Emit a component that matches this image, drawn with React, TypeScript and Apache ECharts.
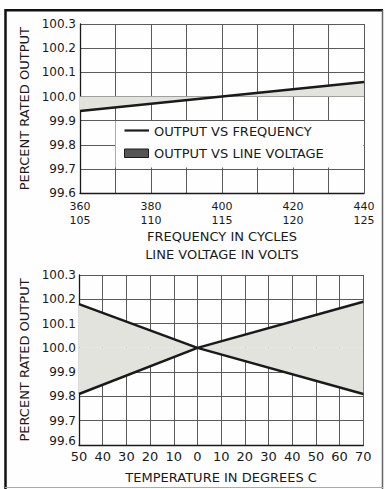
import React, { useEffect, useRef } from "react";
import * as echarts from "echarts";

// ---- data ----
const freqTicks = [360, 380, 400, 420, 440];
const voltTicks = [105, 110, 115, 120, 125];
const freqX = [360, 440];
const freqOutput = [99.94, 100.06];
const lineVoltX = [105, 125];
const lineVoltOutput = [99.94, 100.06];
const tempX = [-50, 0, 70];
const tempOutputA = [100.18, 100.0, 99.81];
const tempOutputB = [99.81, 100.0, 100.19];
const tempTickLabels = ["50", "40", "30", "20", "10", "0", "10", "20", "30", "40", "50", "60", "70"];
const legendNames = ["OUTPUT VS FREQUENCY", "OUTPUT VS LINE VOLTAGE"];

const FONT = "DejaVu Sans";
const INK = "#1a1a1a";
const GRID = "#5a5a5a";
const BAND = "#e3e3dd";

const zip = (xs: number[], ys: number[]) => xs.map((x, i) => [x, ys[i]]);

export default function App() {
  const ref = useRef<HTMLDivElement>(null);
  useEffect(() => {
    document.body.style.margin = "0";
    if (!ref.current) return;
    const chart = echarts.init(ref.current, undefined, { renderer: "svg" });

    const yAxisBase = (gridIndex: number, margin: number, liftMin: number) => ({
      gridIndex,
      type: "value",
      min: 99.6,
      max: 100.3,
      interval: 0.1,
      axisLine: { show: true, onZero: false, lineStyle: { color: INK, width: 1.3 } },
      axisTick: { show: false },
      splitLine: { show: true, lineStyle: { color: GRID, width: 1 } },
      axisLabel: {
        formatter: (v: number) => (v < 99.65 && liftMin > 0 ? `{lo|${v.toFixed(1)}}` : v.toFixed(1)),
        color: INK,
        fontSize: 12,
        fontFamily: FONT,
        margin,
        rich: {
          lo: { color: INK, fontSize: 12, fontFamily: FONT, padding: [0, 0, liftMin, 0] },
        },
      },
      name: "PERCENT RATED OUTPUT",
      nameLocation: "middle",
      nameRotate: 90,
      nameGap: 45,
      nameTextStyle: { color: INK, fontSize: 13, fontFamily: FONT },
    });

    const option: any = {
      animation: false,
      backgroundColor: "#fefefe",
      grid: [
        { left: 80, top: 24, width: 284, height: 169.3 },
        { left: 79, top: 275, width: 284.3, height: 170 },
      ],
      xAxis: [
        {
          gridIndex: 0,
          type: "value",
          min: 360,
          max: 440,
          interval: 10,
          axisLine: { show: true, onZero: false, lineStyle: { color: INK, width: 1.3 } },
          axisTick: { show: false },
          splitLine: { show: true, lineStyle: { color: GRID, width: 1 } },
          axisLabel: {
            formatter: (v: number) => {
              const i = freqTicks.indexOf(v);
              return i >= 0 ? `${freqTicks[i]}\n${voltTicks[i]}` : "";
            },
            color: INK,
            fontSize: 11,
            fontFamily: FONT,
            margin: 7,
            lineHeight: 13.2,
          },
          name: "FREQUENCY IN CYCLES\nLINE VOLTAGE IN VOLTS",
          nameLocation: "middle",
          nameGap: 31,
          nameTextStyle: { color: INK, fontSize: 13, fontFamily: FONT, lineHeight: 18 },
        },
        {
          gridIndex: 0,
          type: "value",
          min: voltTicks[0],
          max: voltTicks[voltTicks.length - 1],
          show: false,
          axisLine: { onZero: false },
        },
        {
          gridIndex: 1,
          type: "value",
          min: -50,
          max: 70,
          interval: 10,
          axisLine: { show: true, onZero: false, lineStyle: { color: INK, width: 1.3 } },
          axisTick: { show: false },
          splitLine: { show: true, lineStyle: { color: GRID, width: 1 } },
          axisLabel: {
            formatter: (v: number) => tempTickLabels[Math.round((v + 50) / 10)] ?? "",
            color: INK,
            fontSize: 13,
            fontFamily: FONT,
            margin: 5,
          },
          name: "TEMPERATURE IN DEGREES C",
          nameLocation: "middle",
          nameGap: 26,
          nameTextStyle: { color: INK, fontSize: 13, fontFamily: FONT },
        },
      ],
      yAxis: [yAxisBase(0, 4, 0), yAxisBase(1, 3, 8)],
      series: [
        {
          name: legendNames[1],
          type: "line",
          xAxisIndex: 1,
          yAxisIndex: 0,
          data: zip(lineVoltX, lineVoltOutput),
          symbol: "none",
          lineStyle: { width: 0 },
          areaStyle: { origin: 100, color: BAND, opacity: 1 },
          z: 2,
        },
        {
          name: legendNames[0],
          type: "line",
          xAxisIndex: 0,
          yAxisIndex: 0,
          data: zip(freqX, freqOutput),
          symbol: "none",
          lineStyle: { color: INK, width: 2.5 },
          z: 3,
        },
        {
          name: "TEMP A",
          type: "line",
          xAxisIndex: 2,
          yAxisIndex: 1,
          data: zip(tempX, tempOutputA),
          symbol: "none",
          lineStyle: { color: INK, width: 2.5 },
          areaStyle: { origin: 100, color: BAND, opacity: 1 },
          z: 3,
        },
        {
          name: "TEMP B",
          type: "line",
          xAxisIndex: 2,
          yAxisIndex: 1,
          data: zip(tempX, tempOutputB),
          symbol: "none",
          lineStyle: { color: INK, width: 2.5 },
          areaStyle: { origin: 100, color: BAND, opacity: 1 },
          z: 3,
        },
      ],
      graphic: [
        // legend box (hides grid lines behind it)
        { type: "rect", z: 50, shape: { x: 115.5, y: 121, width: 248, height: 46.5 }, style: { fill: "#fefefe" } },
        { type: "line", z: 51, shape: { x1: 124.5, y1: 130.5, x2: 149, y2: 130.5 }, style: { stroke: INK, lineWidth: 2.2 } },
        { type: "rect", z: 51, shape: { x: 124.5, y: 149, width: 24, height: 8.5 }, style: { fill: "#555", stroke: INK, lineWidth: 1 } },
        { type: "text", z: 51, x: 154, y: 131, style: { text: legendNames[0], fill: INK, fontSize: 13, fontFamily: FONT, verticalAlign: "middle" } },
        { type: "text", z: 51, x: 154, y: 153, style: { text: legendNames[1], fill: INK, fontSize: 13, fontFamily: FONT, verticalAlign: "middle" } },
        // outer frame
        { type: "line", z: 60, shape: { x1: 5.5, y1: 9, x2: 5.5, y2: 489 }, style: { stroke: "#111", lineWidth: 2.5 } },
        { type: "line", z: 60, shape: { x1: 5, y1: 10.3, x2: 383, y2: 10.3 }, style: { stroke: "#111", lineWidth: 2.5 } },
        { type: "line", z: 60, shape: { x1: 382.5, y1: 10, x2: 382.5, y2: 489 }, style: { stroke: "#666", lineWidth: 1.5 } },
        { type: "line", z: 60, shape: { x1: 5, y1: 487.5, x2: 383, y2: 487.5 }, style: { stroke: "#aaa", lineWidth: 1 } },
      ],
    };
    chart.setOption(option);
    return () => chart.dispose();
  }, []);
  return <div ref={ref} style={{ width: 385, height: 489 }} />;
}
